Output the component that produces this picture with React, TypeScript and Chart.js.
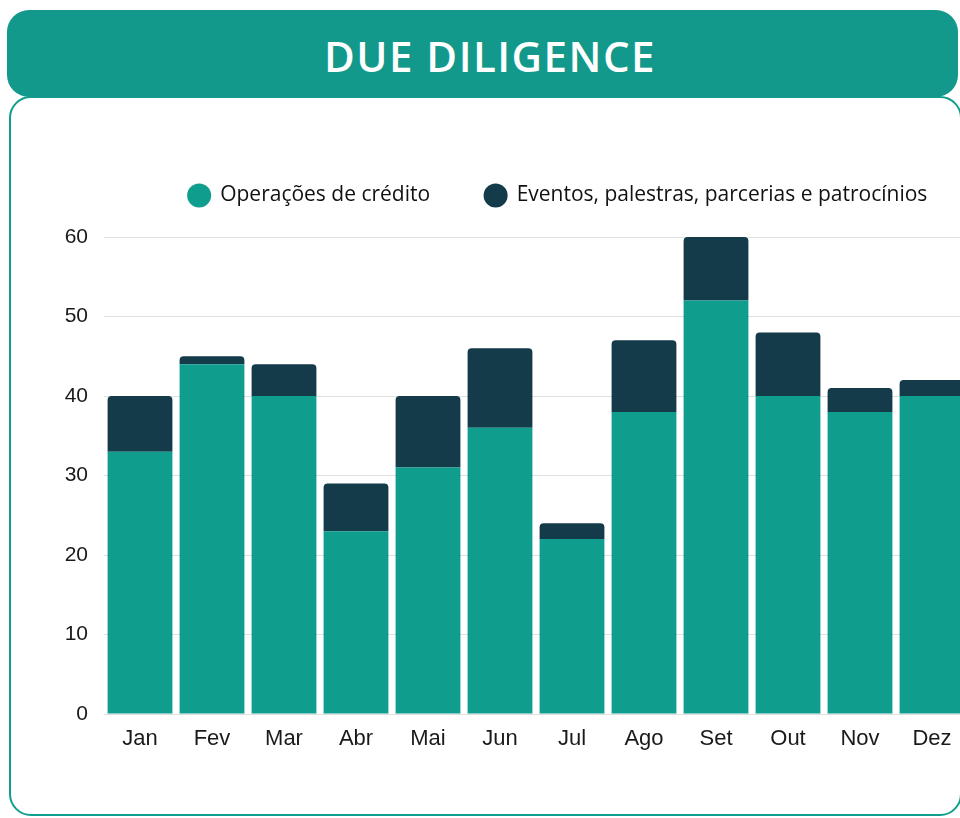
import React, { useEffect, useRef } from "react";
import { Chart, registerables } from "chart.js";

Chart.register(...registerables);

const months = ["Jan", "Fev", "Mar", "Abr", "Mai", "Jun", "Jul", "Ago", "Set", "Out", "Nov", "Dez"];
const operacoes = [33, 44, 40, 23, 31, 36, 22, 38, 52, 40, 38, 40];
const eventos = [7, 1, 4, 6, 9, 10, 2, 9, 8, 8, 3, 2];
const seriesNames = ["Operações de crédito", "Eventos, palestras, parcerias e patrocínios"];
const yTicks = [0, 10, 20, 30, 40, 50, 60];

const TEAL = "#0f9d8d";
const DARK = "#133b49";

export default function App() {
  const ref = useRef<HTMLCanvasElement | null>(null);

  useEffect(() => {
    if (!ref.current) return;
    const legendFix = {
      id: "legendFix",
      beforeInit(chart: any) {
        const orig = chart.legend.fit;
        chart.legend.fit = function () {
          orig.call(this);
          this.height = 107;
        };
      },
    };
    const chart = new Chart(ref.current, {
      type: "bar",
      data: {
        labels: months,
        datasets: [
          {
            label: seriesNames[0],
            data: operacoes,
            backgroundColor: TEAL,
            borderWidth: 0,
            borderRadius: 0,
            barPercentage: 0.9,
            categoryPercentage: 1,
          },
          {
            label: seriesNames[1],
            data: eventos,
            backgroundColor: DARK,
            borderWidth: 0,
            borderRadius: { topLeft: 4, topRight: 4, bottomLeft: 0, bottomRight: 0 },
            borderSkipped: "bottom",
            barPercentage: 0.9,
            categoryPercentage: 1,
          },
        ],
      },
      options: {
        responsive: false,
        animation: false,
        devicePixelRatio: 1,
        layout: { padding: 0 },
        plugins: {
          tooltip: { enabled: false },
          legend: {
            position: "top",
            align: "center",
            labels: {
              usePointStyle: true,
              pointStyle: "circle",
              boxWidth: 21,
              boxHeight: 17,
              padding: 55,
              color: "#111111",
              font: { family: "'Open Sans', sans-serif", size: 21 },
            },
          },
        },
        scales: {
          x: {
            stacked: true,
            grid: { display: false, drawTicks: false },
            border: { display: false },
            ticks: {
              color: "#1a1a1a",
              padding: 12,
              font: { family: "'Liberation Sans', Arial, sans-serif", size: 22 },
            },
            afterFit: (s: any) => {
              s.height = 50;
            },
          },
          y: {
            stacked: true,
            min: 0,
            max: 60,
            afterBuildTicks: (s: any) => {
              s.ticks = yTicks.map((v) => ({ value: v }));
            },
            grid: { color: "#e0e0e0", lineWidth: 1, drawTicks: false },
            border: { display: false },
            ticks: {
              color: "#1a1a1a",
              padding: 16,
              font: { family: "'Liberation Sans', Arial, sans-serif", size: 21 },
            },
            afterFit: (s: any) => {
              s.width = 64;
            },
          },
          yPad: {
            position: "right",
            display: true,
            grid: { display: false, drawTicks: false },
            border: { display: false },
            ticks: { display: false },
            afterFit: (s: any) => {
              s.width = 108;
            },
          },
        },
      },
      plugins: [legendFix],
    } as any);
    return () => chart.destroy();
  }, []);

  return (
    <div
      style={{
        position: "fixed",
        left: 0,
        top: 0,
        width: 960,
        height: 818,
        overflow: "hidden",
        background: "#ffffff",
      }}
    >
      <div
        style={{
          position: "absolute",
          left: 9,
          top: 96,
          width: 953,
          height: 720,
          border: `2px solid ${TEAL}`,
          borderRadius: 22,
          boxSizing: "border-box",
          background: "#ffffff",
        }}
      />
      <div
        style={{
          position: "absolute",
          left: 7,
          top: 10,
          width: 951,
          height: 87,
          background: "#12998b",
          borderRadius: 22,
        }}
      />
      <div
        style={{
          position: "absolute",
          left: 240,
          top: 12,
          width: 500,
          height: 87,
          lineHeight: "87px",
          textAlign: "center",
          color: "#ffffff",
          fontFamily: "'Open Sans', sans-serif",
          fontWeight: 600,
          fontSize: 42,
          letterSpacing: 1.5,
        }}
      >
        DUE DILIGENCE
      </div>
      <canvas
        ref={ref}
        width={1036}
        height={634}
        style={{ position: "absolute", left: 40, top: 130, width: 1036, height: 634 }}
      />
    </div>
  );
}
